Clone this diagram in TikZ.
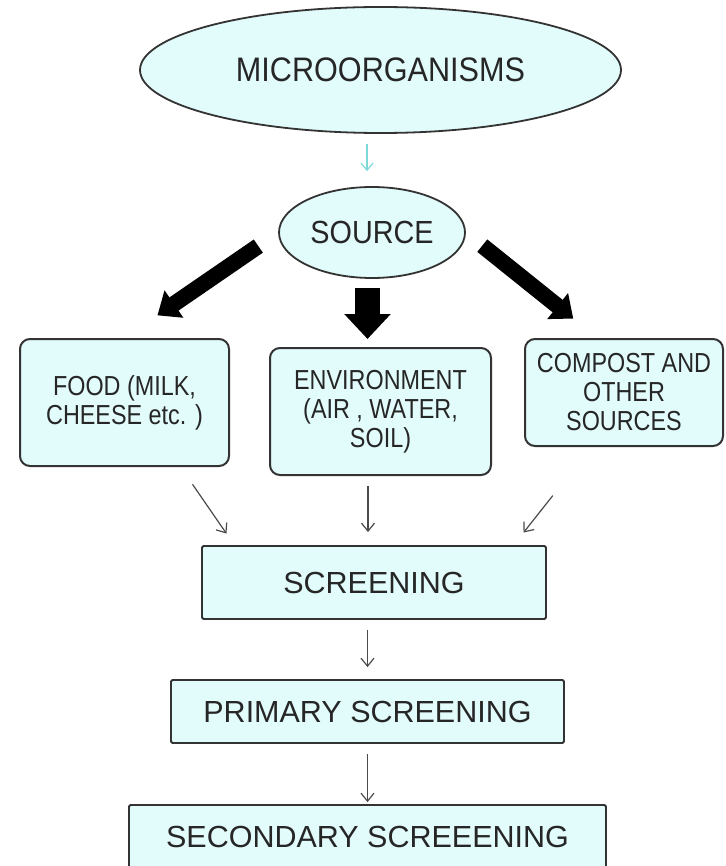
\documentclass[tikz,border=0pt]{standalone}
\usepackage{fontspec}
\setmainfont{Liberation Sans}
\newfontfamily\narrowfont{Liberation Sans}[FakeStretch=0.85]
\newfontfamily\ovalfont{Liberation Sans}[FakeStretch=0.9]
\usetikzlibrary{shapes.geometric,arrows.meta}
\definecolor{boxfill}{HTML}{E2FBFB}
\definecolor{boxline}{HTML}{333333}
\definecolor{arrowcyan}{HTML}{7ED9D6}
\definecolor{thinline}{HTML}{4A4A4A}

\begin{document}
\begin{tikzpicture}[x=1pt,y=-1pt,%
					oval/.style={ellipse,draw=boxline,line width=1.8pt,fill=boxfill,inner sep=0pt,text=black!85},%
					srcbox/.style={draw=boxline,line width=2pt,fill=boxfill,rounded corners=10pt,align=center,inner sep=0pt,text=black!85,font=\narrowfont\fontsize{27.5}{29}\selectfont},%
					stagebox/.style={draw=boxline,line width=1.8pt,fill=boxfill,rounded corners=1.5pt,inner sep=0pt,text=black!85,font=\fontsize{30.5}{30.5}\selectfont},%
					fatarrow/.style={line width=16pt,-{Triangle[length=20pt,width=32pt]}},%
					thinarrow/.style={thinline,line width=1.2pt,-{Straight Barb[length=8pt,width=13pt]}}]

\useasboundingbox (0,0) rectangle (725,866);

\node [oval,minimum width=481pt,minimum height=126pt,font=\ovalfont\fontsize{34}{34}\selectfont] (micro) at (380.5,70) {MICROORGANISMS};
\node [oval,minimum width=186pt,minimum height=91pt,font=\ovalfont\fontsize{32}{32}\selectfont] (source) at (372,232.5) {SOURCE};

\foreach \name/\x/\y/\w/\h/\txt in {food/124.5/402.5/209/127/{FOOD (MILK,\\CHEESE etc. )},env/380.5/411.5/221/127/{ENVIRONMENT\\(AIR , WATER,\\SOIL)},compost/624/392.5/198/107/{COMPOST AND\\OTHER\\SOURCES}}
	\node [srcbox,minimum width=\w pt,minimum height=\h pt] (\name) at (\x,\y) {\txt};

\node [stagebox,minimum width=344pt,minimum height=73pt] (screen) at (374,582.5) {SCREENING};
\node [stagebox,minimum width=393pt,minimum height=63pt] (primary) at (367.5,711.5) {PRIMARY SCREENING};
\node [stagebox,minimum width=477pt,minimum height=64pt] (secondary) at (367.5,837) {SECONDARY SCREEENING};

\draw [arrowcyan,line width=1.2pt,-{Straight Barb[length=7pt,width=12pt]},shorten <=10pt,shorten >=15pt] ([xshift=-5pt]source.north |- micro.south) -- ([xshift=-5pt]source.north);

% fat arrows to the sources
\draw [fatarrow,shorten <=24pt,shorten >=40pt] (source.west) -- (food.north);
\draw [fatarrow,shorten <=21pt,shorten >=31pt] (source.east) -- (compost.116);
\draw [line width=25pt,-{Triangle[length=25pt,width=45pt]},shorten <=9pt,shorten >=8pt] ([xshift=-4.5pt]source.south) -- ([xshift=-4.5pt]source.south |- env.north);

\draw [thinarrow,shorten <=21pt,shorten >=14pt] (food.-49) -- (screen.165);
\draw [thinarrow,shorten <=10pt,shorten >=13pt] ([xshift=-6pt]screen.north |- env.south) -- ([xshift=-6pt]screen.north);
\draw [thinarrow,shorten <=62pt,shorten >=16pt] (compost.-121) -- (screen.15);

\draw [thinarrow,shorten <=10pt,shorten >=12pt] (primary.north |- screen.south) -- (primary.north);
\draw [thinarrow,shorten <=10pt,shorten >=2pt] (secondary.north |- primary.south) -- (secondary.north);

\end{tikzpicture}
\end{document}
